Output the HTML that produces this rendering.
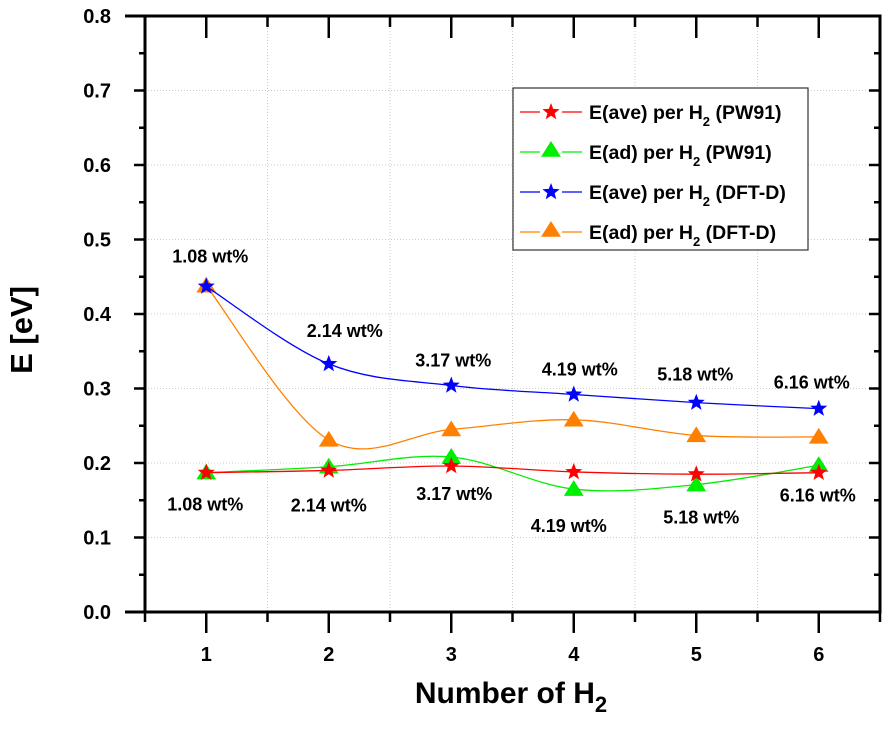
<!DOCTYPE html>
<html><head><meta charset="utf-8"><style>
body{margin:0;background:#fff}
text{font-family:"Liberation Sans",Arial,sans-serif;font-weight:bold}
</style></head><body>
<svg id="chart" width="890" height="727" viewBox="0 0 890 727" xmlns="http://www.w3.org/2000/svg">
<g id="grid"></g>
<g id="series"></g>
<g id="axes"></g>
<g id="labels"></g>
<g id="legend"></g>
<text transform="translate(32,330) rotate(-90)" text-anchor="middle" font-size="31">E [eV]</text>
<text x="511" y="703" text-anchor="middle" font-size="30">Number of H<tspan font-size="22" dy="9">2</tspan></text>
</svg>
<script>
const xs=[1,2,3,4,5,6];
const eavePW=[0.187,0.190,0.196,0.188,0.185,0.187];
const eadPW=[0.187,0.195,0.208,0.165,0.171,0.197];
const eaveD=[0.437,0.333,0.304,0.292,0.281,0.273];
const eadD=[0.438,0.231,0.245,0.258,0.237,0.235];
const wtLabels=["1.08 wt%","2.14 wt%","3.17 wt%","4.19 wt%","5.18 wt%","6.16 wt%"];
const yTicks=[0,0.1,0.2,0.3,0.4,0.5,0.6,0.7,0.8];
const xTicks=[1,2,3,4,5,6];

const L=145,R=880,T=16,B=612;
const X=v=>L+(v-0.5)/6*(R-L);
const Y=v=>B-v/0.8*(B-T);
const NS="http://www.w3.org/2000/svg";
function mk(tag,attrs,parent){const e=document.createElementNS(NS,tag);for(const k in attrs)e.setAttribute(k,attrs[k]);parent.appendChild(e);return e;}
const grid=document.getElementById('grid'),axes=document.getElementById('axes'),ser=document.getElementById('series'),lab=document.getElementById('labels'),leg=document.getElementById('legend');

yTicks.forEach(t=>{ if(t>0&&t<0.8){const g=mk('line',{x1:L,x2:R,y1:Y(t),y2:Y(t),stroke:'#ccc','stroke-dasharray':'1,2'},grid);

}});
for(let v=1.5;v<6.5;v+=1){const g=mk('line',{x1:X(v),x2:X(v),y1:T,y2:B,stroke:'#ccc','stroke-dasharray':'1,2'},grid);

}

mk('rect',{x:L,y:T,width:R-L,height:B-T,fill:'none',stroke:'#000','stroke-width':3},axes);
mk('line',{x1:L-20,x2:R,y1:B,y2:B,stroke:'#000','stroke-width':3},axes);
mk('line',{x1:L-20,x2:L,y1:T,y2:T,stroke:'#000','stroke-width':3},axes);
yTicks.forEach(t=>{mk('line',{x1:L-11,x2:L,y1:Y(t),y2:Y(t),stroke:'#000','stroke-width':2.5},axes);
 mk('line',{x1:R-11,x2:R,y1:Y(t),y2:Y(t),stroke:'#000','stroke-width':2.5},axes);
 if(t<0.8){ mk('line',{x1:L-6,x2:L,y1:Y(t+0.05),y2:Y(t+0.05),stroke:'#000','stroke-width':2.5},axes);
  mk('line',{x1:R-6,x2:R,y1:Y(t+0.05),y2:Y(t+0.05),stroke:'#000','stroke-width':2.5},axes);}
 const tx=mk('text',{x:L-34,y:Y(t)+7,'text-anchor':'end','font-size':20},axes);tx.textContent=t.toFixed(1);
 
 });
xTicks.forEach(t=>{mk('line',{x1:X(t),x2:X(t),y1:B,y2:B+21,stroke:'#000','stroke-width':2.5},axes);
 mk('line',{x1:X(t),x2:X(t),y1:T,y2:T+22,stroke:'#000','stroke-width':2.5},axes);
 const tx=mk('text',{x:X(t),y:B+49,'text-anchor':'middle','font-size':20},axes);tx.textContent=t;
 
 });
for(let v=0.5;v<=6.5;v+=1){ mk('line',{x1:X(v),x2:X(v),y1:B,y2:B+10,stroke:'#000','stroke-width':2.5},axes);
 mk('line',{x1:X(v),x2:X(v),y1:T,y2:T+11,stroke:'#000','stroke-width':2.5},axes);}

function spline(vals){const p=vals.map((v,i)=>[X(xs[i]),Y(v)]);let d=`M${p[0][0]},${p[0][1]}`;
 for(let i=0;i<p.length-1;i++){const p0=p[Math.max(0,i-1)],p1=p[i],p2=p[i+1],p3=p[Math.min(p.length-1,i+2)];
 d+=` C${p1[0]+(p2[0]-p0[0])/6},${p1[1]+(p2[1]-p0[1])/6} ${p2[0]-(p3[0]-p1[0])/6},${p2[1]-(p3[1]-p1[1])/6} ${p2[0]},${p2[1]}`;}return d;}
function star(cx,cy,r,col,parent){let pts=[];for(let i=0;i<10;i++){const a=-Math.PI/2+i*Math.PI/5,rr=i%2?r*0.42:r;pts.push((cx+rr*Math.cos(a)).toFixed(1)+','+(cy+rr*Math.sin(a)).toFixed(1));}
 return mk('polygon',{points:pts.join(' '),fill:col},parent);}
function tri(cx,cy,r,col,parent){return mk('polygon',{points:`${cx},${cy-r} ${cx+r*1.1},${cy+r*0.75} ${cx-r*1.1},${cy+r*0.75}`,fill:col},parent);}
const S=[[eavePW,'#ff0000','star','series-eave-pw91'],[eadPW,'#00ee00','tri','series-ead-pw91'],[eaveD,'#0000ff','star','series-eave-dftd'],[eadD,'#ff8000','tri','series-ead-dftd']];
[S[3],S[2],S[1],S[0]].forEach(s=>{const g=mk('g',{},ser);
 
 
 mk('path',{d:spline(s[0]),fill:'none',stroke:s[1],'stroke-width':1.3},g);
 s[0].forEach((v,i)=>{const m=s[2]=='star'?star(X(xs[i]),Y(v),9,s[1],g):tri(X(xs[i]),Y(v),9,s[1],g);
 
 });});

const upOff=[[4,-24],[16,-27],[2,-19],[6,-19],[-1,-22],[-7,-20]];
const loOff=[[-1,38],[0,41],[3,34],[-5,43],[5,39],[-1,29]];
wtLabels.forEach((w,i)=>{const a=mk('text',{x:X(xs[i])+upOff[i][0],y:Y(eaveD[i])+upOff[i][1],'text-anchor':'middle','font-size':18},lab);a.textContent=w;
 
 
 const lowV=Math.min(eavePW[i],eadPW[i]);
 const b=mk('text',{x:X(xs[i])+loOff[i][0],y:Y(lowV)+loOff[i][1],'text-anchor':'middle','font-size':18},lab);b.textContent=w;
 
 });

mk('rect',{x:513,y:88,width:295,height:162,fill:'#fff',stroke:'#333','stroke-width':1.2},leg);
const names=['E(ave) per H','E(ad) per H','E(ave) per H','E(ad) per H'],tails=[' (PW91)',' (PW91)',' (DFT-D)',' (DFT-D)'];
S.forEach((s,i)=>{const y=112+i*40;const g=mk('g',{},leg);
 
 
 mk('line',{x1:520,x2:540,y1:y,y2:y,stroke:s[1],'stroke-width':1.3},g);
 mk('line',{x1:562,x2:582,y1:y,y2:y,stroke:s[1],'stroke-width':1.3},g);
 s[2]=='star'?star(551,y,9,s[1],g):tri(551,y-2,9,s[1],g);
 const t=mk('text',{x:589,y:y+7,'font-size':19.5},g);
 t.innerHTML=names[i]+'<tspan font-size="13" dy="7">2</tspan><tspan dy="-7">'+tails[i]+'</tspan>';});
</script>
</body></html>
